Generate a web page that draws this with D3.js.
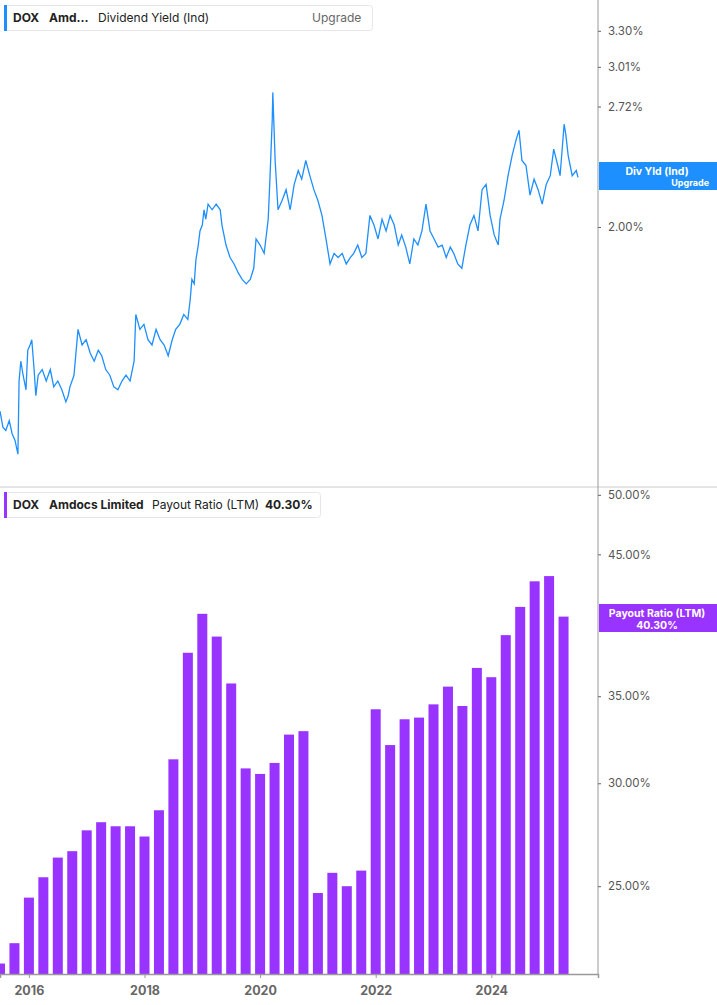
<!DOCTYPE html>
<html>
<head>
<meta charset="utf-8">
<script src="https://cdn.jsdelivr.net/npm/d3@7"></script>
<style>
  body { margin: 0; background: #fff; font-family: Inter, "Noto Sans", sans-serif; }
  svg text { font-family: Inter, "Noto Sans", sans-serif; }
</style>
</head>
<body>
<svg id="chart" width="717" height="1005"></svg>
<script>
// Dividend yield (%)
const yieldDates = [2015.50,2015.55,2015.60,2015.66,2015.71,2015.76,2015.81,2015.83,2015.86,2015.90,2015.95,2015.98,2016.02,2016.05,2016.09,2016.12,2016.16,2016.23,2016.30,2016.37,2016.43,2016.50,2016.57,2016.64,2016.68,2016.71,2016.78,2016.85,2016.92,2016.99,2017.06,2017.13,2017.20,2017.26,2017.33,2017.40,2017.47,2017.54,2017.61,2017.68,2017.75,2017.82,2017.85,2017.92,2017.99,2018.06,2018.13,2018.20,2018.27,2018.34,2018.41,2018.48,2018.54,2018.61,2018.68,2018.75,2018.79,2018.82,2018.86,2018.89,2018.93,2018.96,2019.00,2019.03,2019.06,2019.10,2019.17,2019.24,2019.31,2019.34,2019.41,2019.48,2019.55,2019.62,2019.69,2019.76,2019.83,2019.89,2019.93,2020.00,2020.07,2020.10,2020.14,2020.17,2020.21,2020.22,2020.26,2020.31,2020.38,2020.45,2020.52,2020.59,2020.66,2020.72,2020.79,2020.86,2020.93,2021.00,2021.07,2021.14,2021.21,2021.28,2021.35,2021.42,2021.49,2021.56,2021.62,2021.69,2021.76,2021.83,2021.90,2021.97,2022.04,2022.11,2022.18,2022.25,2022.32,2022.39,2022.45,2022.52,2022.59,2022.66,2022.73,2022.80,2022.87,2022.94,2023.01,2023.08,2023.15,2023.22,2023.29,2023.35,2023.42,2023.49,2023.56,2023.63,2023.70,2023.77,2023.84,2023.91,2023.98,2024.05,2024.12,2024.15,2024.22,2024.29,2024.36,2024.43,2024.48,2024.53,2024.60,2024.67,2024.74,2024.81,2024.88,2024.95,2025.02,2025.08,2025.15,2025.19,2025.26,2025.29,2025.33,2025.40,2025.47,2025.50];
const yieldValues = [1.25,1.20,1.19,1.22,1.18,1.16,1.12,1.35,1.42,1.37,1.32,1.46,1.48,1.50,1.39,1.30,1.37,1.39,1.35,1.39,1.33,1.35,1.32,1.28,1.30,1.33,1.37,1.54,1.48,1.50,1.45,1.42,1.46,1.44,1.39,1.37,1.33,1.32,1.35,1.37,1.35,1.42,1.60,1.54,1.56,1.50,1.48,1.54,1.50,1.48,1.44,1.50,1.54,1.56,1.60,1.58,1.66,1.75,1.73,1.84,1.91,1.98,2.01,2.09,2.04,2.12,2.09,2.12,2.09,2.01,1.91,1.85,1.82,1.78,1.75,1.73,1.75,1.80,1.94,1.91,1.87,1.94,2.04,2.26,2.63,2.82,2.37,2.09,2.14,2.20,2.09,2.23,2.31,2.26,2.37,2.28,2.20,2.14,2.06,1.94,1.82,1.87,1.85,1.87,1.82,1.85,1.87,1.91,1.85,1.87,2.06,2.01,1.94,2.04,1.98,2.06,2.01,1.91,1.96,1.90,1.82,1.94,1.91,1.98,2.12,1.98,1.94,1.90,1.91,1.85,1.90,1.87,1.82,1.80,1.91,2.01,2.06,1.98,2.20,2.23,2.06,1.96,1.91,2.04,2.14,2.28,2.40,2.50,2.56,2.37,2.34,2.17,2.26,2.20,2.12,2.23,2.28,2.44,2.34,2.28,2.60,2.53,2.40,2.28,2.31,2.27];

// Payout ratio (LTM, %) quarterly bars
const payoutDates = d3.range(40).map(i => 2015.5 + i * 0.25);
const payoutValues = [21.8,22.6,24.5,25.4,26.3,26.6,27.6,28.0,27.8,27.8,27.3,28.6,31.3,37.8,40.5,38.9,35.8,30.8,30.5,31.1,32.7,32.9,24.7,25.6,25.0,25.7,34.2,32.1,33.6,33.7,34.5,35.6,34.4,36.8,36.2,39.0,41.0,42.9,43.3,40.3];

const yearTicks = [2016, 2018, 2020, 2022, 2024];
const yieldTicks = [2.00, 2.72, 3.01, 3.30];
const payoutTicks = [25, 30, 35, 45, 50]; // 40% sits behind the value label

const blue = "#1e8fff", purple = "#9933ff", grey = "#999";
const plotRight = 598, splitY = 487, bottomY = 974;

const svg = d3.select("#chart");

const x = d3.scaleLinear().domain([2015.5, 2015.5 + plotRight / 57.8]).range([0, plotRight]);
const yTop = d3.scaleLog().domain([1.03, 3.57]).range([splitY, 0]);
const yBot = d3.scaleLog().domain([21.4, 50.7]).range([bottomY, splitY]);

// top line
const line = d3.line().x((d, i) => x(yieldDates[i])).y(d => yTop(d));
svg.append("path").datum(yieldValues)
  .attr("d", line).attr("fill", "none").attr("stroke", blue).attr("stroke-width", 1.3);

// bottom bars
svg.selectAll("rect.bar").data(payoutValues).enter().append("rect")
  .attr("class", "bar")
  .attr("x", (d, i) => x(payoutDates[i]) - 5)
  .attr("width", 10)
  .attr("y", d => yBot(d))
  .attr("height", d => bottomY - yBot(d))
  .attr("fill", purple);

// separators and axes
svg.append("line").attr("x1", 0).attr("x2", 717).attr("y1", splitY).attr("y2", splitY)
  .attr("stroke", "#ccc");
svg.append("line").attr("x1", plotRight).attr("x2", plotRight).attr("y1", 0).attr("y2", bottomY)
  .attr("stroke", grey);

const fmt = d => d.toFixed(2) + "%";
const ayTop = svg.append("g").attr("transform", `translate(${plotRight},0)`)
  .call(d3.axisRight(yTop).tickValues(yieldTicks).tickFormat(fmt).tickSize(3));
const ayBot = svg.append("g").attr("transform", `translate(${plotRight},0)`)
  .call(d3.axisRight(yBot).tickValues(payoutTicks).tickFormat(fmt).tickSize(3));
[ayTop, ayBot].forEach(g => {
  g.select(".domain").remove();
  g.selectAll("line").attr("stroke", "#666");
  g.selectAll("text").attr("fill", "#555").attr("font-size", 11.5).attr("x", 10);
});

const ax = svg.append("g").attr("transform", `translate(0,${bottomY})`)
  .call(d3.axisBottom(x).tickValues(yearTicks).tickFormat(d3.format("d")).tickSize(4));
ax.select(".domain").attr("stroke", grey).attr("stroke-width", 1.5);
ax.selectAll("line").attr("stroke", grey);
ax.selectAll("text").attr("fill", "#666").attr("font-size", 12.5).attr("font-weight", "bold").attr("dy", "1.1em");

// right value labels
function valueLabel(y, color, top, bottom, sub) {
  const g = svg.append("g");
  g.append("rect").attr("x", plotRight + 1).attr("y", y).attr("width", 717 - plotRight).attr("height", 28).attr("fill", color);
  g.append("text").attr("x", 657).attr("y", y + 13).attr("text-anchor", "middle")
    .attr("fill", "#fff").attr("font-size", 10.5).attr("font-weight", "bold").text(top);
  if (sub) {
    g.append("text").attr("x", 709).attr("y", y + 24).attr("text-anchor", "end")
      .attr("fill", "#fff").attr("font-size", 9).attr("font-weight", "bold").text(bottom);
  } else {
    g.append("text").attr("x", 657).attr("y", y + 25).attr("text-anchor", "middle")
      .attr("fill", "#fff").attr("font-size", 10.5).attr("font-weight", "bold").text(bottom);
  }
}
valueLabel(162, blue, "Div Yld (Ind)", "Upgrade", true);
valueLabel(604, purple, "Payout Ratio (LTM)", "40.30%", false);

// legends
function legend(y, w, color, items) {
  const g = svg.append("g");
  g.append("rect").attr("x", 4.5).attr("y", y + 0.5).attr("width", w).attr("height", 25).attr("rx", 3)
    .attr("fill", "#fff").attr("stroke", "#e6e6e6");
  g.append("rect").attr("x", 4).attr("y", y).attr("width", 3).attr("height", 26).attr("fill", color);
  items.forEach(it => {
    g.append("text").attr("x", it[0]).attr("y", y + 17).attr("font-size", 12)
      .attr("font-weight", it[2] ? "bold" : "normal").attr("fill", it[3] || "#222").text(it[1]);
  });
}
legend(5, 368, blue, [[13, "DOX", true], [49, "Amd\u2026", true], [98, "Dividend Yield (Ind)", false], [312, "Upgrade", false, "#666"]]);
legend(492, 316, purple, [[13, "DOX", true], [49, "Amdocs Limited", true], [152, "Payout Ratio (LTM)", false], [265, "40.30%", true]]);
</script>
</body>
</html>
